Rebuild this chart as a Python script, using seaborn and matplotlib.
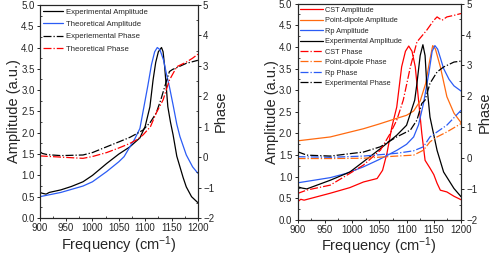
import numpy as np
import pandas as pd

import matplotlib
matplotlib.use('Agg')
import matplotlib.pyplot as plt
from matplotlib.ticker import MultipleLocator
import seaborn as sns

## DATA
# left panel: experiment vs theory
f_exp_amp_L = [900, 905, 912, 918, 940, 960, 982, 1000, 1027, 1050, 1071, 1090, 1100, 1109, 1115, 1120,
               1125, 1131, 1134, 1137, 1143, 1148, 1153, 1160, 1166, 1172, 1178, 1188, 1200]
exp_amp_L = [0.60, 0.58, 0.56, 0.60, 0.66, 0.74, 0.85, 1.0, 1.28, 1.5, 1.67, 1.88, 2.15, 2.61, 3.24, 3.65,
             3.9, 4.0, 3.9, 3.55, 2.61, 2.25, 1.95, 1.45, 1.2, 0.95, 0.73, 0.5, 0.36]

f_th_amp_L = [900, 940, 982, 1000, 1027, 1050, 1060, 1071, 1080, 1090, 1096, 1105, 1112, 1118, 1123,
              1128, 1135, 1140, 1146, 1153, 1160, 1166, 1178, 1190, 1200]
th_amp_L = [0.5, 0.6, 0.75, 0.85, 1.09, 1.32, 1.44, 1.67, 1.85, 2.1, 2.5, 3.1, 3.6, 3.9, 4.0,
            3.95, 3.7, 3.4, 3.08, 2.65, 2.2, 1.91, 1.48, 1.2, 1.05]

f_exp_ph_L = [900, 905, 915, 940, 982, 1000, 1027, 1050, 1071, 1085, 1096, 1110, 1121, 1130, 1137,
              1146, 1152, 1160, 1178, 1200]
exp_ph_L = [0.18, 0.12, 0.08, 0.05, 0.07, 0.15, 0.34, 0.5, 0.65, 0.78, 0.89, 1.15, 1.45, 1.9, 2.31,
            2.81, 2.88, 2.94, 3.08, 3.18]

f_th_ph_L = [900, 940, 982, 1000, 1027, 1050, 1071, 1085, 1096, 1110, 1121, 1134, 1146, 1160, 1178,
             1190, 1200]
th_ph_L = [0.04, 0.0, -0.04, 0.02, 0.15, 0.3, 0.45, 0.58, 0.73, 1.0, 1.45, 1.88, 2.53, 2.97, 3.12,
           3.25, 3.38]

# right panel: CST / point-dipole / Rp / experiment
f_cst_amp = [900, 906, 912, 930, 960, 996, 1021, 1046, 1056, 1064, 1073, 1082, 1091, 1098, 1104, 1110,
             1116, 1122, 1128, 1134, 1143, 1150, 1156, 1162, 1174, 1187, 1200]
cst_amp = [0.42, 0.48, 0.46, 0.52, 0.62, 0.75, 0.88, 0.96, 1.15, 1.54, 2.15, 2.61, 3.54, 3.9, 4.02, 3.9,
           3.54, 2.77, 2.0, 1.38, 1.2, 1.05, 0.85, 0.69, 0.65, 0.55, 0.47]

f_pd_amp = [900, 960, 1021, 1050, 1082, 1100, 1113, 1125, 1135, 1142, 1148, 1153, 1162, 1174, 1187, 1200]
pd_amp = [1.83, 1.92, 2.11, 2.22, 2.35, 2.42, 2.52, 2.75, 3.15, 3.65, 4.03, 3.95, 3.54, 2.85, 2.47, 2.25]

f_rp_amp = [900, 930, 960, 990, 1021, 1050, 1082, 1100, 1113, 1122, 1131, 1141, 1147, 1152, 1157, 1162,
            1168, 1178, 1187, 1200]
rp_amp = [0.86, 0.92, 0.98, 1.08, 1.23, 1.4, 1.61, 1.75, 1.92, 2.2, 2.69, 3.4, 3.9, 4.03, 3.95, 3.75,
          3.5, 3.25, 3.1, 2.98]

f_exp_amp_R = [900, 908, 917, 960, 996, 1021, 1052, 1082, 1100, 1115, 1119, 1125, 1130, 1134, 1137, 1143,
               1156, 1168, 1187, 1200]
exp_amp_R = [0.77, 0.74, 0.72, 0.92, 1.11, 1.35, 1.65, 1.96, 2.19, 2.77, 3.15, 3.8, 4.05, 3.8, 3.15, 2.38,
             1.61, 1.11, 0.73, 0.54]

f_cst_ph = [900, 917, 960, 996, 1021, 1052, 1070, 1082, 1094, 1107, 1119, 1137, 1150, 1156, 1165, 1174,
            1187, 1200]
cst_ph = [-1.14, -1.03, -0.87, -0.49, -0.22, 0.26, 0.8, 1.23, 1.88, 2.95, 3.76, 4.14, 4.46, 4.57, 4.46,
          4.57, 4.62, 4.68]

f_pd_ph = [900, 960, 1021, 1082, 1113, 1131, 1143, 1156, 1174, 1200]
pd_ph = [-0.01, -0.01, 0.0, 0.07, 0.1, 0.26, 0.53, 0.69, 0.85, 1.12]

f_rp_ph = [900, 960, 1021, 1082, 1113, 1131, 1143, 1156, 1174, 1200]
rp_ph = [0.05, 0.03, 0.07, 0.16, 0.24, 0.37, 0.69, 0.85, 1.07, 1.55]

f_exp_ph_R = [900, 917, 960, 1021, 1052, 1082, 1107, 1119, 1128, 1134, 1143, 1156, 1168, 1187, 1200]
exp_ph_R = [0.21, 0.1, 0.07, 0.2, 0.37, 0.69, 0.91, 1.23, 1.77, 1.88, 2.42, 2.79, 2.95, 3.11, 3.14]

RED = '#ff0000'
ORANGE = '#ff6a10'
BLUE = '#2b5cf5'
BLACK = '#000000'

## STYLE
sns.set_style('ticks')
plt.rcParams['font.family'] = ['Liberation Sans', 'DejaVu Sans']
plt.rcParams['mathtext.fontset'] = 'custom'
plt.rcParams['mathtext.rm'] = 'Liberation Sans'
plt.rcParams['mathtext.it'] = 'Liberation Sans'


def line(ax, f, y, color, label, style='-'):
    df = pd.DataFrame({'f': f, 'y': y})
    sns.lineplot(data=df, x='f', y='y', ax=ax, color=color, label=label,
                 linestyle=style, linewidth=0.9, legend=False)


def setup(ax, ax2, xpad):
    ax.set_xlim(900, 1200)
    ax.set_ylim(0, 5)
    ax2.set_ylim(-2, 5)
    ax.xaxis.set_major_locator(MultipleLocator(50))
    ax.xaxis.set_minor_locator(MultipleLocator(25))
    ax.yaxis.set_major_locator(MultipleLocator(0.5))
    ax.yaxis.set_minor_locator(MultipleLocator(0.25))
    ax2.yaxis.set_major_locator(MultipleLocator(1))
    ax2.yaxis.set_minor_locator(MultipleLocator(0.5))
    ax.yaxis.set_major_formatter(matplotlib.ticker.FormatStrFormatter('%.1f'))
    for a in (ax, ax2):
        a.tick_params(which='major', length=2.5, width=0.7, labelsize=7, pad=1.2)
        a.tick_params(which='minor', length=1.5, width=0.6, direction='in')
        for s in a.spines.values():
            s.set_linewidth(0.8)
            s.set_visible(True)
    ax.set_xlabel('Frequency (cm$^{-1}$)', fontsize=10.5, labelpad=xpad)
    ax.set_ylabel('Amplitude (a.u.)', fontsize=10.5, labelpad=0)
    ax2.set_ylabel('Phase', fontsize=10.5, labelpad=0)
    ax2.set_xlabel('')


fig = plt.figure(figsize=(4.91, 2.58), dpi=100)

## LEFT PANEL
axL = fig.add_axes([0.081, 0.155, 0.322, 0.826])
axL2 = axL.twinx()
line(axL, f_exp_amp_L, exp_amp_L, BLACK, 'Experimental Amplitude')
line(axL, f_th_amp_L, th_amp_L, BLUE, 'Theoretical Amplitude')
line(axL2, f_exp_ph_L, exp_ph_L, BLACK, 'Experiemental Phase', '-.')
line(axL2, f_th_ph_L, th_ph_L, RED, 'Theoretical Phase', '-.')
setup(axL, axL2, 1.2)
h1, l1 = axL.get_legend_handles_labels()
h2, l2 = axL2.get_legend_handles_labels()
axL2.legend(h1 + h2, l1 + l2, loc='upper left', frameon=False, fontsize=5.6,
            handlelength=2.6, handletextpad=0.3, labelspacing=0.62,
            borderaxespad=0.2, borderpad=0.25)

## RIGHT PANEL
axR = fig.add_axes([0.606, 0.147, 0.333, 0.839])
axR2 = axR.twinx()
line(axR, f_cst_amp, cst_amp, RED, 'CST Amplitude')
line(axR, f_pd_amp, pd_amp, ORANGE, 'Point-dipole Amplitude')
line(axR, f_rp_amp, rp_amp, BLUE, 'Rp Amplitude')
line(axR, f_exp_amp_R, exp_amp_R, BLACK, 'Experimental Amplitude')
line(axR2, f_cst_ph, cst_ph, RED, 'CST Phase', '-.')
line(axR2, f_pd_ph, pd_ph, ORANGE, 'Point-dipole Phase', '-.')
line(axR2, f_rp_ph, rp_ph, BLUE, 'Rp Phase', '-.')
line(axR2, f_exp_ph_R, exp_ph_R, BLACK, 'Experimental Phase', '-.')
setup(axR, axR2, 0)
h1, l1 = axR.get_legend_handles_labels()
h2, l2 = axR2.get_legend_handles_labels()
axR2.legend(h1 + h2, l1 + l2, loc='upper left', frameon=False, fontsize=5.3,
            handlelength=3.0, handletextpad=0.3, labelspacing=0.45,
            borderaxespad=0.2, borderpad=0.2)

fig.savefig('out.png', dpi=100)
